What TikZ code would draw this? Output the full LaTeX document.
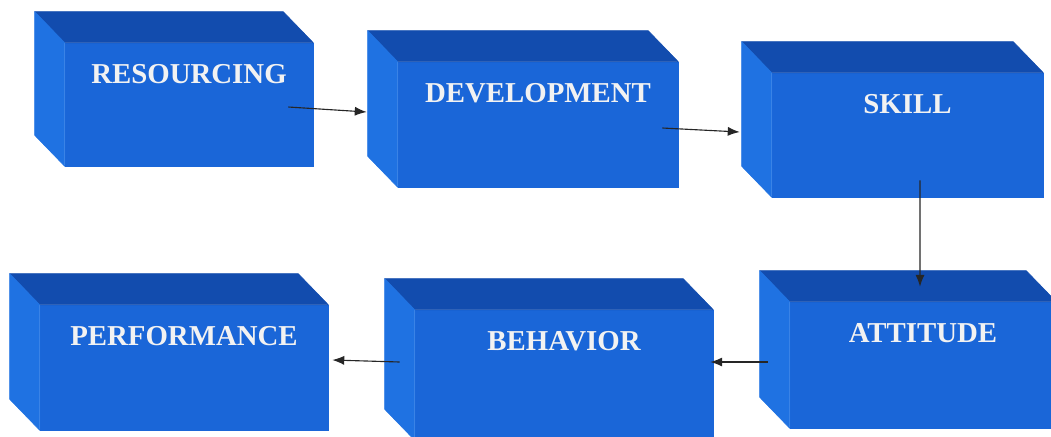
\documentclass[tikz,border=0pt]{standalone}
\usepackage{fontspec}
\setmainfont{Liberation Serif}
\usetikzlibrary{calc,arrows.meta}

\definecolor{frontblue}{HTML}{1A66D8}
\definecolor{topblue}{HTML}{124CAE}
\definecolor{sideblue}{HTML}{1F72E2}

\begin{document}
\begin{tikzpicture}[x=0.025cm,y=-0.025cm,
    face/.style={fill=frontblue,draw=frontblue,line width=0.4pt,inner sep=0},
    caption/.style={text=white!95!black,inner sep=0,
      font=\fontsize{20.5}{24}\selectfont\bfseries},
    link/.style={-{Latex[length=8.5pt,width=6.5pt]},line width=0.8pt,draw=black!85}]

  \useasboundingbox (0,0) rectangle (1051,436);
  \clip (0,0) rectangle (1051,436);

  % blocks: front face, top, left side, caption
  \foreach \nm/\cx/\cy/\w/\h/\txt in {
      res/189/104.5/248/123/RESOURCING,
      dev/538/124.5/280/125/DEVELOPMENT,
      sk/907.5/135/271/124/SKILL,
      att/923/365/266/126/ATTITUDE,
      beh/564/375/298/130/BEHAVIOR,
      perf/184/367.5/288/125/PERFORMANCE} {
    \node[face,minimum width=\w*0.025cm,minimum height=\h*0.025cm] (\nm) at (\cx,\cy) {};
    \filldraw[topblue,line width=0.4pt,line join=round] (\nm.north west) -- ++(-30,-31)
      -- ($(\nm.north east)+(-30,-31)$) -- (\nm.north east) -- cycle;
    \filldraw[sideblue,line width=0.4pt,line join=round] (\nm.north west) -- ++(-30,-31)
      -- ($(\nm.south west)+(-30,-31)$) -- (\nm.south west) -- cycle;
    \node[caption] (\nm-t) at ($(\nm.north)+(0,31)$) {\txt};
  }

  % flow
  \draw[link] ($(res.east)+(-25,2.5)$) -- ($(dev.west)+(-31,-12.5)$);
  \draw[link] ($(dev.east)+(-16,3.5)$) -- ($(sk.west)+(-32,-3)$);
  \draw[link] ($(sk.south)+(12.5,-17)$) -- ($(att.north)+(-3,-15)$);
  \draw[link] ($(att.west)+(-22,-3)$) -- ($(beh.east)+(-3,-13)$);
  \draw[link] ($(beh.west)+(-15,-13)$) -- ($(perf.east)+(4,-7.5)$);

\end{tikzpicture}
\end{document}
